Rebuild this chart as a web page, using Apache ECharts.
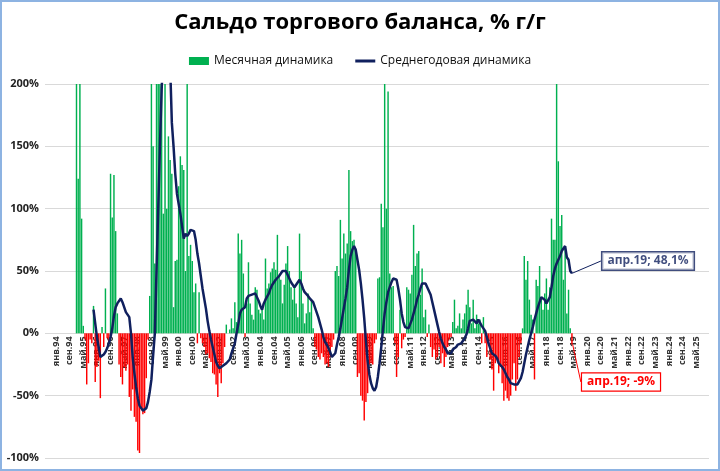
<!DOCTYPE html>
<html><head><meta charset="utf-8">
<script src="https://cdn.jsdelivr.net/npm/echarts@6/dist/echarts.min.js"></script>
<style>html,body{margin:0;padding:0;background:#fff}#c{width:720px;height:471px}</style>
</head><body><div id="c"></div>
<script>
// ---- axis / tick labels ----
const MONTH_NAMES = ['янв','фев','мар','апр','май','июн','июл','авг','сен','окт','ноя','дек'];
const AXIS_FROM = [1993, 6];   // июл.93 (axis starts a little before first label)
const AXIS_TO   = [2025, 11];  // дек.25
const LABEL_FIRST = 'янв.94';
const LABEL_STEP = 8;
const Y_MIN = -100, Y_MAX = 200, Y_STEP = 50;

// ---- series: monthly y/y change of trade balance, % (starts янв.94) ----
const MONTHLY_START = 'янв.94';
const monthly = [
  null,null,null,null,null,null,null,null,null,null,null,null,          // 1994
  240,124,240,92,6,-5,-41,-24,-5,-8,22,-39,                            // 1995
  -27,-22,-52,5,-11,36,-4,-8,128,93,127,82,                            // 1996
  16,-25,-35,-41,-27,-30,-25,-51,-62,-45,-67,-71,                      // 1997
  -94,-96,-60,-65,-64,-36,-5,30,240,150,56,240,                        // 1998
  240,240,205,96,240,100,158,139,128,21,58,59,                         // 1999
  118,142,135,131,50,240,62,71,58,33,40,-8,                            // 2000
  33,-4,-8,-11,-17,-16,-20,-23,-32,-33,-41,-51,                        // 2001
  -32,-40,-24,-11,7,0,3,12,4,25,9,80,                                  // 2002
  64,75,48,-3,24,57,24,15,11,37,35,19,                                 // 2003
  16,19,11,60,36,40,49,52,57,51,79,46,                                 // 2004
  43,24,39,56,70,50,37,27,37,24,13,80,                                 // 2005
  50,24,8,16,32,17,27,4,-11,-13,-19,-21,                               // 2006
  -16,-19,-25,-24,-27,-19,-11,-5,50,54,46,91,                          // 2007
  60,80,64,72,131,82,74,75,68,-35,-32,-50,                             // 2008
  -54,-70,-55,-48,-25,-24,-25,-8,-5,44,45,104,                         // 2009
  85,240,100,194,48,37,38,-8,-35,-19,19,-12,                           // 2010
  -5,-3,37,35,32,47,87,54,64,66,31,52,                                 // 2011
  13,19,-3,7,-11,-19,-13,-21,-19,-11,-24,-16,                          // 2012
  -27,-19,-11,-5,-3,9,27,4,6,16,4,11,                                  // 2013
  16,23,35,21,8,27,4,15,8,11,-8,13,                                    // 2014
  -8,-19,-5,-21,-29,-46,-24,-19,-32,-27,-40,-54,                       // 2015
  -46,-52,-54,-50,-37,-24,-46,-37,-19,-8,4,62,                         // 2016
  43,58,27,15,11,-37,43,38,54,29,19,32,                                // 2017
  44,19,37,92,75,75,240,138,86,95,43,70,                               // 2018
  16,35,4,-9                                                           // 2019
];

// ---- series: 12-month average dynamics, % (starts ноя.95) ----
const AVG_START = 'ноя.95';
const annualAvg = [
  19,8,                                                                // 1995
  -3,-11,-19,-19,-17,-15,-12,-8,-3,4,14,21,                            // 1996
  24,24,28,25,21,17,16,13,0,-19,-32,-43,                               // 1997
  -52,-58,-60,-62,-62,-60,-55,-47,-37,-18,0,50,                        // 1998
  100,150,195,230,250,255,245,215,169,150,128,112,                     // 1999
  104,96,86,76,80,78,80,83,82,82,75,64,                                // 2000
  56,46,36,28,20,10,2,-5,-11,-17,-23,-26,                              // 2001
  -28,-27,-26,-25,-24,-24,-21,-16,-12,-8,0,7,                          // 2002
  16,19,19,21,28,30,31,31,32,32,29,26,                                 // 2003
  22,19,24,27,28,32,36,39,41,43,44,46,                                 // 2004
  48,50,51,50,47,44,41,39,37,37,41,43,                                 // 2005
  40,36,33,32,30,28,27,25,21,17,13,8,                                  // 2006
  3,-3,-7,-9,-12,-15,-19,-20,-16,-9,-3,4,                              // 2007
  12,20,28,37,51,62,67,70,67,59,51,40,                                 // 2008
  27,12,-6,-22,-33,-40,-44,-46,-43,-35,-24,-11,                        // 2009
  3,16,25,33,37,41,44,44,43,36,27,16,                                  // 2010
  9,5,4,4,5,11,16,21,27,31,36,40,                                      // 2011
  41,40,39,34,31,25,19,13,7,1,-4,-8,                                   // 2012
  -11,-13,-16,-17,-16,-13,-12,-11,-9,-9,-8,-7,                         // 2013
  -4,-1,4,10,11,11,10,8,11,10,6,4,                                     // 2014
  2,-3,-8,-12,-16,-17,-18,-20,-24,-25,-27,-29,                         // 2015
  -32,-35,-37,-40,-41,-41,-41,-41,-40,-36,-31,-24,                     // 2016
  -17,-11,-5,0,5,11,16,21,25,29,28,27,                                 // 2017
  24,25,29,37,46,52,56,59,62,66,68,70,                                 // 2018
  61,59,50,48.1                                                        // 2019
];

const SERIES_NAMES = ['Месячная динамика', 'Среднегодовая динамика'];
const TITLE = 'Сальдо торгового баланса, % г/г';

const GREEN = '#00B050', RED = '#FF0000', NAVY = '#10205E';

// ---- build categories ----
const categories = [];
for (let y = AXIS_FROM[0], m = AXIS_FROM[1]; y < AXIS_TO[0] || (y === AXIS_TO[0] && m <= AXIS_TO[1]); ) {
  categories.push(MONTH_NAMES[m] + '.' + String(y % 100).padStart(2, '0'));
  m++; if (m === 12) { m = 0; y++; }
}
const labelFirstIdx = categories.indexOf(LABEL_FIRST);
const mOff = categories.indexOf(MONTHLY_START);
const aOff = categories.indexOf(AVG_START);
const lastM = mOff + monthly.length - 1;
const lastA = aOff + annualAvg.length - 1;

const fmtPct = v => String(v).replace('.', ',') + '%';

const barData = categories.map((c, k) => {
  const v = monthly[k - mOff];
  if (v === undefined || v === null) return null;
  const item = { value: v, itemStyle: { color: v < 0 ? RED : GREEN } };
  if (k === lastM) {
    item.label = {
      show: true, formatter: categories[k] + '; ' + fmtPct(v),
      color: RED, fontWeight: 'bold', fontSize: 12, fontFamily: 'Open Sans',
      backgroundColor: '#fff', borderColor: RED, borderWidth: 1.2, padding: [3, 5, 2, 5]
    };
    item.labelLine = { show: true, lineStyle: { color: RED, width: 1 } };
  }
  return item;
});

const lineData = categories.map((c, k) => {
  const v = annualAvg[k - aOff];
  return v === undefined ? null : v;
});

// plot rectangle
const GRID_TOP = 84, GRID_BOTTOM = 13, GRID_LEFT = 45, GRID_RIGHT = 11;
const plotH = 471 - GRID_TOP - GRID_BOTTOM;
const zeroY = GRID_TOP + plotH * Y_MAX / (Y_MAX - Y_MIN);

const chart = echarts.init(document.getElementById('c'), null, { renderer: 'canvas' });
chart.setOption({
  animation: false,
  backgroundColor: '#fff',
  title: {
    text: TITLE, left: 'center', top: 7,
    textStyle: { fontFamily: 'Open Sans', fontWeight: 'bold', fontSize: 22, color: '#000' }
  },
  legend: {
    top: 50, left: 'center', itemGap: 22, itemWidth: 20, itemHeight: 8,
    textStyle: { fontFamily: 'Open Sans', fontSize: 12, color: '#111' },
    data: [
      { name: SERIES_NAMES[0], icon: 'rect' },
      { name: SERIES_NAMES[1], icon: 'path://M0,0H20V3H0Z', itemStyle: { color: NAVY } }
    ]
  },
  grid: [
    { left: GRID_LEFT, right: GRID_RIGHT, top: GRID_TOP, bottom: GRID_BOTTOM, containLabel: false, outerBoundsMode: 'none' },
    { left: GRID_LEFT, right: GRID_RIGHT, top: GRID_TOP, bottom: 471 - zeroY, containLabel: false, outerBoundsMode: 'none' }
  ],
  xAxis: [
    {
      gridIndex: 0, type: 'category', data: categories, boundaryGap: true,
      axisLine: { show: false }, axisTick: { show: false }, axisLabel: { show: false },
      splitLine: { show: false }
    },
    {
      gridIndex: 1, type: 'category', data: categories, boundaryGap: true, position: 'bottom',
      axisLine: { show: false }, axisTick: { show: false }, splitLine: { show: false },
      axisLabel: {
        rotate: 90, margin: 3, fontSize: 9, fontWeight: 'bold', color: '#333',
        fontFamily: 'Open Sans',
        interval: (idx) => idx >= labelFirstIdx && (idx - labelFirstIdx) % LABEL_STEP === 0
      }
    }
  ],
  yAxis: [
    {
      gridIndex: 0, type: 'value', min: Y_MIN, max: Y_MAX, interval: Y_STEP,
      axisLine: { show: false }, axisTick: { show: false },
      axisLabel: { formatter: '{value}%', fontSize: 11, fontWeight: 'bold', color: '#222', fontFamily: 'Open Sans', margin: 6 },
      splitLine: { lineStyle: { color: '#D9D9D9', width: 1 } }
    },
    { gridIndex: 1, type: 'value', min: 0, max: 1, show: false }
  ],
  series: [
    {
      name: SERIES_NAMES[0], type: 'bar', data: barData, barCategoryGap: '15%',
      xAxisIndex: 0, yAxisIndex: 0,
      itemStyle: { color: GREEN }, clip: true,
      labelLayout: (p) => p.dataIndex === lastM ? { x: 621, y: 382, align: 'center', verticalAlign: 'middle' } : {}
    },
    {
      name: SERIES_NAMES[1], type: 'line', data: lineData, symbol: 'none', showSymbol: false,
      xAxisIndex: 0, yAxisIndex: 0,
      lineStyle: { color: NAVY, width: 2.5 }, itemStyle: { color: NAVY }, clip: true
    },
    {
      name: 'annotation', type: 'scatter', xAxisIndex: 0, yAxisIndex: 0, z: 5,
      symbolSize: 1, itemStyle: { color: NAVY },
      data: [{
        value: [categories[lastA], annualAvg[annualAvg.length - 1]],
        label: {
          show: true, formatter: categories[lastA] + '; ' + fmtPct(annualAvg[annualAvg.length - 1]),
          color: NAVY, fontWeight: 'bold', fontSize: 12, fontFamily: 'Open Sans',
          backgroundColor: '#fff', borderColor: NAVY, borderWidth: 1.5, padding: [3, 5, 2, 5]
        },
        labelLine: { show: true, lineStyle: { color: NAVY, width: 1 } }
      }],
      labelLayout: { x: 648, y: 261, align: 'center', verticalAlign: 'middle' }
    }
  ],
  graphic: [{
    type: 'rect', silent: true, z: 100,
    shape: { x: 1, y: 1, width: 718, height: 469 },
    style: { fill: 'none', stroke: '#8DB3E2', lineWidth: 2 }
  }]
});
</script>
</body></html>
